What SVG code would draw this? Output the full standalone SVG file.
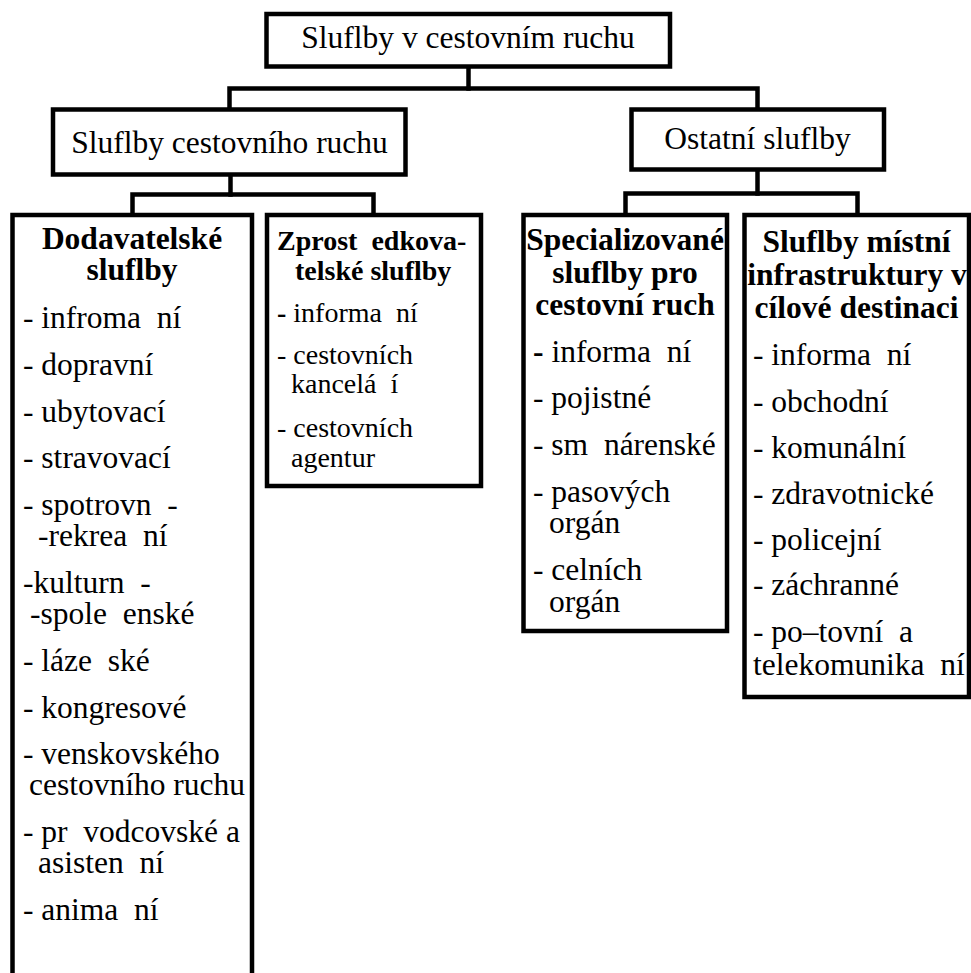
<svg xmlns="http://www.w3.org/2000/svg" width="971" height="973" viewBox="0 0 971 973">
<style>
.box{fill:#fff;stroke:#000;stroke-width:4.5;stroke-linejoin:miter}
.con{fill:none;stroke:#000;stroke-width:4.5;stroke-linejoin:miter;stroke-linecap:square}
text{font-family:"Liberation Serif","Times New Roman",serif;fill:#000;white-space:pre}
.t{font-size:31.5px}
.h{font-size:31.5px;font-weight:bold}
.s{font-size:28px}
.sh{font-size:28px;font-weight:bold}
.m{text-anchor:middle}
</style>
<rect width="971" height="973" fill="#fff"/>
<g id="connectors">
<path class="con" d="M468.5,66.5 V88.5"/>
<path class="con" d="M229.5,109.5 V88.5 H757.5 V109.5"/>
<path class="con" d="M230.5,174.5 V194.5"/>
<path class="con" d="M132.5,215 V194.5 H373.5 V215"/>
<path class="con" d="M757.5,169.5 V193.5"/>
<path class="con" d="M625.5,215 V193.5 H857.5 V215"/>
</g>
<g id="root">
<rect class="box" x="266.5" y="14" width="403.5" height="52.5"/>
<text class="t m" x="468" y="48">Sluflby v cestovním ruchu</text>
</g>
<g id="sluzby-cr">
<rect class="box" x="53" y="109.5" width="352.5" height="65"/>
<text class="t m" x="229.5" y="153">Sluflby cestovního ruchu</text>
</g>
<g id="ostatni">
<rect class="box" x="631.5" y="109.5" width="252.5" height="60"/>
<text class="t m" x="757.5" y="149">Ostatní sluflby</text>
</g>
<g id="dodavatelske">
<rect class="box" x="12.5" y="215" width="239.5" height="800"/>
<text class="h m" x="132" y="249">Dodavatelské</text>
<text class="h m" x="132" y="280">sluflby</text>
<text class="t" x="23" y="328">- infroma  ní</text>
<text class="t" x="23" y="374.8">- dopravní</text>
<text class="t" x="23" y="421.6">- ubytovací</text>
<text class="t" x="23" y="468.4">- stravovací</text>
<text class="t" x="23" y="515.2">- spotrovn  -</text>
<text class="t" x="38" y="546.2">-rekrea  ní</text>
<text class="t" x="23" y="593">-kulturn  -</text>
<text class="t" x="30" y="624">-spole  enské</text>
<text class="t" x="23" y="670.8">- láze  ské</text>
<text class="t" x="23" y="717.6">- kongresové</text>
<text class="t" x="23" y="764.4">- venskovského</text>
<text class="t" x="29" y="795.4">cestovního ruchu</text>
<text class="t" x="23" y="842.2">- pr  vodcovské a</text>
<text class="t" x="38" y="873.2">asisten  ní</text>
<text class="t" x="23" y="920">- anima  ní</text>
</g>
<g id="zprostredkovatelske">
<rect class="box" x="267" y="215" width="214" height="271"/>
<text class="sh" x="277" y="250">Zprost  edkova-</text>
<text class="sh" x="295" y="280">telské sluflby</text>
<text class="s" x="277" y="322"><tspan font-weight="bold">-</tspan> informa  ní</text>
<text class="s" x="277" y="364">- cestovních</text>
<text class="s" x="291" y="393">kancelá  í</text>
<text class="s" x="277" y="437">- cestovních</text>
<text class="s" x="291" y="467">agentur</text>
</g>
<g id="specializovane">
<rect class="box" x="523.5" y="215" width="203.5" height="416"/>
<text class="h m" x="625" y="250">Specializované</text>
<text class="h m" x="625" y="283">sluflby pro</text>
<text class="h m" x="625" y="315">cestovní ruch</text>
<text class="t" x="533" y="362"><tspan font-weight="bold">-</tspan> informa  ní</text>
<text class="t" x="533" y="408">- pojistné</text>
<text class="t" x="533" y="455">- sm  nárenské</text>
<text class="t" x="533" y="502">- pasových</text>
<text class="t" x="549" y="533">orgán</text>
<text class="t" x="533" y="580">- celních</text>
<text class="t" x="549" y="612">orgán</text>
</g>
<g id="mistni-infrastruktura">
<rect class="box" x="744.5" y="215" width="224.5" height="482"/>
<text class="h m" x="856.5" y="252">Sluflby místní</text>
<text class="h m" x="857" y="285">infrastruktury v</text>
<text class="h m" x="856.5" y="318">cílové destinaci</text>
<text class="t" x="753" y="365">- informa  ní</text>
<text class="t" x="753" y="412">- obchodní</text>
<text class="t" x="753" y="458">- komunální</text>
<text class="t" x="753" y="504">- zdravotnické</text>
<text class="t" x="753" y="550">- policejní</text>
<text class="t" x="753" y="595">- záchranné</text>
<text class="t" x="753" y="642">- po–tovní  a</text>
<text class="t" x="753" y="675">telekomunika  ní</text>
</g>
</svg>
